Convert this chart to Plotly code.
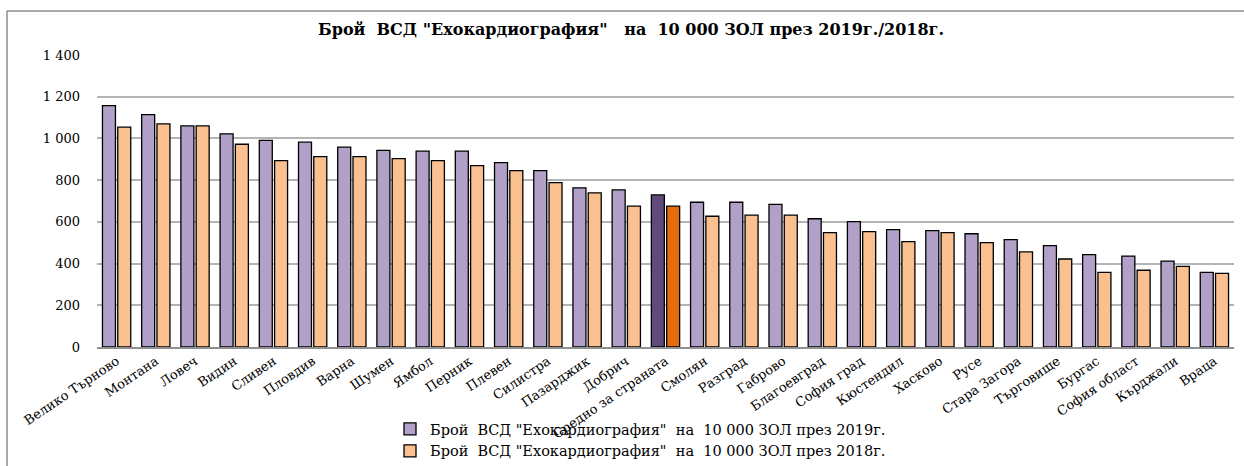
import plotly.graph_objects as go

categories = ["Велико Търново", "Монтана", "Ловеч", "Видин", "Сливен", "Пловдив", "Варна",
              "Шумен", "Ямбол", "Перник", "Плевен", "Силистра", "Пазарджик", "Добрич",
              "Средно за страната", "Смолян", "Разград", "Габрово", "Благоевград",
              "София град", "Кюстендил", "Хасково", "Русе", "Стара Загора", "Търговище",
              "Бургас", "София област", "Кърджали", "Враца"]
values_2019 = [1157, 1114, 1060, 1022, 991, 982, 958, 943, 939, 939, 884, 846, 763, 753,
               729, 694, 694, 684, 615, 601, 563, 558, 543, 515, 486, 443, 436, 412, 358]
values_2018 = [1054, 1070, 1060, 972, 894, 913, 913, 903, 894, 870, 846, 788, 739, 675,
               675, 627, 632, 632, 548, 553, 505, 548, 500, 456, 422, 358, 368, 387, 353]
name_2019 = 'Брой  ВСД "Ехокардиография"  на  10 000 ЗОЛ през 2019г.'
name_2018 = 'Брой  ВСД "Ехокардиография"  на  10 000 ЗОЛ през 2018г.'
title_text = 'Брой  ВСД "Ехокардиография"   на  10 000 ЗОЛ през 2019г./2018г.'
highlight = "Средно за страната"

NB = "\u00a0"
def keep_spaces(s):
    return s.replace(" ", NB)

c19 = ["#604A7B" if c == highlight else "#B1A0C7" for c in categories]
c18 = ["#E46C0A" if c == highlight else "#FAC090" for c in categories]

W, H = 1244, 466
L, R, T, B = 97, 1234, 55, 347

fig = go.Figure()
fig.add_trace(go.Bar(x=categories, y=values_2019, name=keep_spaces(name_2019),
                     marker=dict(color=c19, line=dict(color="#000000", width=1.3))))
fig.add_trace(go.Bar(x=categories, y=values_2018, name=keep_spaces(name_2018),
                     marker=dict(color=c18, line=dict(color="#000000", width=1.3))))

def px_x(x):
    return (x - L) / (R - L)
def px_y(y):
    return (B - y) / (B - T)

font_family = "DejaVu Serif, Liberation Serif, serif"

fig.update_layout(
    width=W, height=H,
    margin=dict(l=L, r=W - R, t=T, b=H - B, autoexpand=False),
    paper_bgcolor="white", plot_bgcolor="white",
    barmode="group", bargap=0.22, bargroupgap=0.15,
    separators=". ",
    font=dict(family=font_family, size=12, color="#000000"),
    title=dict(text="<b>" + keep_spaces(title_text) + "</b>", x=631 / W, xanchor="center",
               y=1 - 29 / H, yanchor="middle", font=dict(size=16, family=font_family)),
    xaxis=dict(tickangle=-34, showline=True, linecolor="#909090", linewidth=1.5,
               ticks="", tickfont=dict(size=13), showgrid=False),
    yaxis=dict(range=[0, 1400], dtick=200, tickformat=",d", showgrid=True,
               gridcolor="#b4b4b4", gridwidth=1.5, showline=False, zeroline=False,
               ticks="", ticklen=0, tickfont=dict(size=13), ticklabelstandoff=16),
    legend=dict(orientation="v", x=px_x(390), xanchor="left", y=px_y(413), yanchor="top",
                font=dict(size=14.5, family=font_family), tracegroupgap=0,
                bgcolor="rgba(0,0,0,0)", itemwidth=30),
    showlegend=True,
)

# chart-area border (left and top edges visible)
fig.add_shape(type="line", xref="paper", yref="paper", x0=px_x(7), x1=px_x(1250),
              y0=px_y(11), y1=px_y(11), line=dict(color="#8c8c8c", width=1.5))
fig.add_shape(type="line", xref="paper", yref="paper", x0=px_x(7), x1=px_x(7),
              y0=px_y(11), y1=px_y(470), line=dict(color="#8c8c8c", width=1.5))

fig.write_html("out.html", config={"displayModeBar": False},
               post_script="document.body.style.margin='0';document.body.style.overflow='hidden';")
